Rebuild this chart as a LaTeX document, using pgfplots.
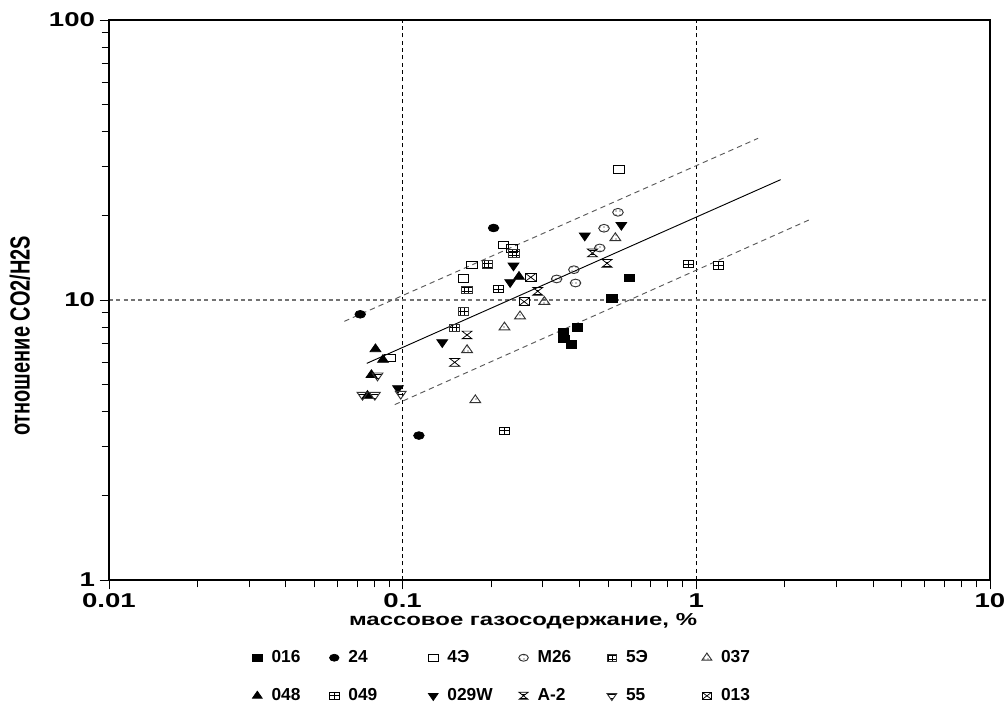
\documentclass[border=0pt]{standalone}
\usepackage{fontspec}
\setmainfont{Liberation Sans}
\usepackage{graphicx}
\usepackage{pgfplots}
\pgfplotsset{compat=1.18}
\usetikzlibrary{patterns}

% the source picture is stretched sideways, so text is too
\newcommand{\sx}[1]{\scalebox{1.38}[1]{#1}}
\newcommand{\sy}[1]{\scalebox{1}[1.38]{#1}}

\pgfdeclareplotmark{sqplus}{%
  \pgfpathrectangle{\pgfqpoint{-\pgfplotmarksize}{-\pgfplotmarksize}}{\pgfqpoint{2\pgfplotmarksize}{2\pgfplotmarksize}}%
  \pgfusepathqfillstroke
  \pgfpathmoveto{\pgfqpoint{-\pgfplotmarksize}{0pt}}\pgfpathlineto{\pgfqpoint{\pgfplotmarksize}{0pt}}%
  \pgfpathmoveto{\pgfqpoint{0pt}{-\pgfplotmarksize}}\pgfpathlineto{\pgfqpoint{0pt}{\pgfplotmarksize}}%
  \pgfusepathqstroke}
\pgfdeclareplotmark{sqx}{%
  \pgfpathrectangle{\pgfqpoint{-\pgfplotmarksize}{-\pgfplotmarksize}}{\pgfqpoint{2\pgfplotmarksize}{2\pgfplotmarksize}}%
  \pgfusepathqfillstroke
  \pgfpathmoveto{\pgfqpoint{-\pgfplotmarksize}{-\pgfplotmarksize}}\pgfpathlineto{\pgfqpoint{\pgfplotmarksize}{\pgfplotmarksize}}%
  \pgfpathmoveto{\pgfqpoint{-\pgfplotmarksize}{\pgfplotmarksize}}\pgfpathlineto{\pgfqpoint{\pgfplotmarksize}{-\pgfplotmarksize}}%
  \pgfusepathqstroke}
\pgfdeclareplotmark{hourglass}{%
  \pgfpathmoveto{\pgfqpoint{-\pgfplotmarksize}{\pgfplotmarksize}}%
  \pgfpathlineto{\pgfqpoint{\pgfplotmarksize}{\pgfplotmarksize}}%
  \pgfpathlineto{\pgfqpoint{-\pgfplotmarksize}{-\pgfplotmarksize}}%
  \pgfpathlineto{\pgfqpoint{\pgfplotmarksize}{-\pgfplotmarksize}}%
  \pgfpathclose
  \pgfusepathqfillstroke}

\begin{document}
\begin{tikzpicture}
\path[use as bounding box] (-81.75pt,-107.25pt) rectangle (671.25pt,435pt);
\begin{loglogaxis}[
    at={(0,0)}, anchor=south west,
    scale only axis, width=660.75pt, height=420pt,
    xmin=0.01, xmax=10, ymin=1, ymax=100,
    xtick={0.01,0.1,1,10}, xticklabels={\sx{0.01},\sx{0.1},\sx{1},\sx{10}},
    ytick={1,10,100}, yticklabels={\sx{1},\sx{10},\sx{100}},
    tick pos=left, tick align=outside,
    major tick length=7pt, minor tick length=5.5pt,
    every tick/.style={black, line width=0.6pt},
    ticklabel style={font=\bfseries\fontsize{15}{17}\selectfont},
    axis line style={line width=0.8pt},
    grid=major,
    x grid style={black, line width=0.6pt, dash pattern=on 3pt off 2.5pt},
    y grid style={black!55, line width=0.8pt, dash pattern=on 3pt off 2.5pt},
    xlabel={\sx{массовое газосодержание, \%}},
    ylabel={\sy{отношение CO2/H2S}},
    xlabel style={font=\bfseries\fontsize{13}{15}\selectfont,
        at={(axis description cs:0.47,-0.073)}, anchor=center},
    ylabel style={font=\bfseries\fontsize{15}{17}\selectfont,
        at={(axis description cs:-0.101,0.436)}, anchor=center},
    legend columns=6,
    legend style={at={(axis description cs:0.158,-0.121)}, anchor=north west,
        draw=none, fill=none, font=\bfseries\fontsize{13}{15}\selectfont,
        row sep=18pt, nodes={inner sep=0pt},
        /tikz/every odd column/.append style={column sep=7pt},
        /tikz/every even column/.append style={column sep=0pt}},
    legend image code/.code={\draw[#1] plot coordinates {(0.15cm,0cm)};},
    legend image post style={/tikz/every mark/.append style={scale=0.9}},
    every axis plot/.append style={only marks, black, line width=0.55pt},
]

% trend line and band
\addplot[forget plot, no marks, black, line width=0.7pt, sharp plot] coordinates {(0.0755,5.94) (1.937,26.9)};
\addplot[forget plot, no marks, black!65, line width=0.7pt, sharp plot, dash pattern=on 4pt off 3pt] coordinates {(0.0633,8.39) (1.623,37.8)};
\addplot[forget plot, no marks, black!65, line width=0.7pt, sharp plot, dash pattern=on 4pt off 3pt] coordinates {(0.094,4.23) (2.415,19.3)};

\addplot[mark=square*, mark size=2.9pt, mark options={xscale=1.35, fill=black}] coordinates {
 (0.591,12.0) (0.516,10.14) (0.394,7.99) (0.352,7.67) (0.354,7.26) (0.376,6.96)};
\addlegendentry{\makebox[43.5pt][l]{016}}
\addplot[mark=*, mark size=2.9pt, mark options={xscale=1.37, fill=black}] coordinates {
 (0.204,18.08) (0.0717,8.89) (0.1136,3.28)};
\addlegendentry{\makebox[60pt][l]{24}}
\addplot[mark=square, mark size=2.9pt, mark options={xscale=1.35, fill=white}] coordinates {
 (0.545,29.2) (0.2206,15.72) (0.2354,15.3) (0.1723,13.34) (0.1613,11.95) (0.0906,6.21)};
\addlegendentry{\makebox[53.5pt][l]{4Э}}
\addplot[mark=*, mark size=2.9pt, mark options={xscale=1.37, draw=black!80, line width=0.7pt, pattern=dots}] coordinates {
 (0.541,20.57) (0.485,18.04) (0.469,15.34) (0.383,12.83) (0.3345,11.89) (0.388,11.50)};
\addlegendentry{\makebox[52pt][l]{M26}}
\addplot[mark=square*, mark size=2.9pt, mark options={xscale=1.35, draw=black!80, line width=0.7pt, pattern=grid}] coordinates {
 (0.2397,14.63) (0.1947,13.41) (0.1657,10.86) (0.1613,9.08) (0.150,7.94)};
\addlegendentry{\makebox[57pt][l]{5Э}}
\addplot[mark=triangle*, mark size=3.9pt, mark options={xscale=1.2, draw=black!80, line width=0.7pt, pattern=dots}] coordinates {
 (0.530,16.65) (0.3037,9.86) (0.251,8.75) (0.2222,7.99) (0.1657,6.63) (0.1768,4.39)};
\addlegendentry{\makebox[25pt][l]{037}}
\addplot[mark=triangle*, mark size=3.9pt, mark options={xscale=1.2, fill=black}] coordinates {
 (0.249,12.11) (0.0808,6.68) (0.0857,6.12) (0.0783,5.40) (0.0759,4.55)};
\addlegendentry{\makebox[43.5pt][l]{048}}
\addplot[mark=sqplus, mark size=2.9pt, mark options={xscale=1.35, fill=white}] coordinates {
 (0.9395,13.45) (1.187,13.26) (0.212,10.95) (0.2222,3.41)};
\addlegendentry{\makebox[60pt][l]{049}}
\addplot[mark=triangle*, mark size=3.9pt, mark options={xscale=1.2, rotate=180, fill=black}] coordinates {
 (0.5555,18.53) (0.417,16.97) (0.2384,13.26) (0.2323,11.57) (0.1364,7.06) (0.0964,4.84)};
\addlegendentry{\makebox[53.5pt][l]{029W}}
\addplot[mark=hourglass, mark size=2.9pt, mark options={xscale=1.3, pattern=horizontal lines}] coordinates {
 (0.443,14.72) (0.4965,13.52) (0.2884,10.74) (0.1657,7.50) (0.1504,5.99)};
\addlegendentry{\makebox[52pt][l]{A-2}}
\addplot[mark=triangle*, mark size=3.9pt, mark options={xscale=1.2, rotate=180, draw=black!80, line width=0.7pt, pattern=horizontal lines}] coordinates {
 (0.0821,5.37) (0.073,4.58) (0.0804,4.58) (0.0985,4.62)};
\addlegendentry{\makebox[57pt][l]{55}}
\addplot[mark=sqx, mark size=2.9pt, mark options={xscale=1.35, fill=white}] coordinates {
 (0.273,12.05) (0.2593,9.86)};
\addlegendentry{\makebox[25pt][l]{013}}
\end{loglogaxis}
\end{tikzpicture}
\end{document}
